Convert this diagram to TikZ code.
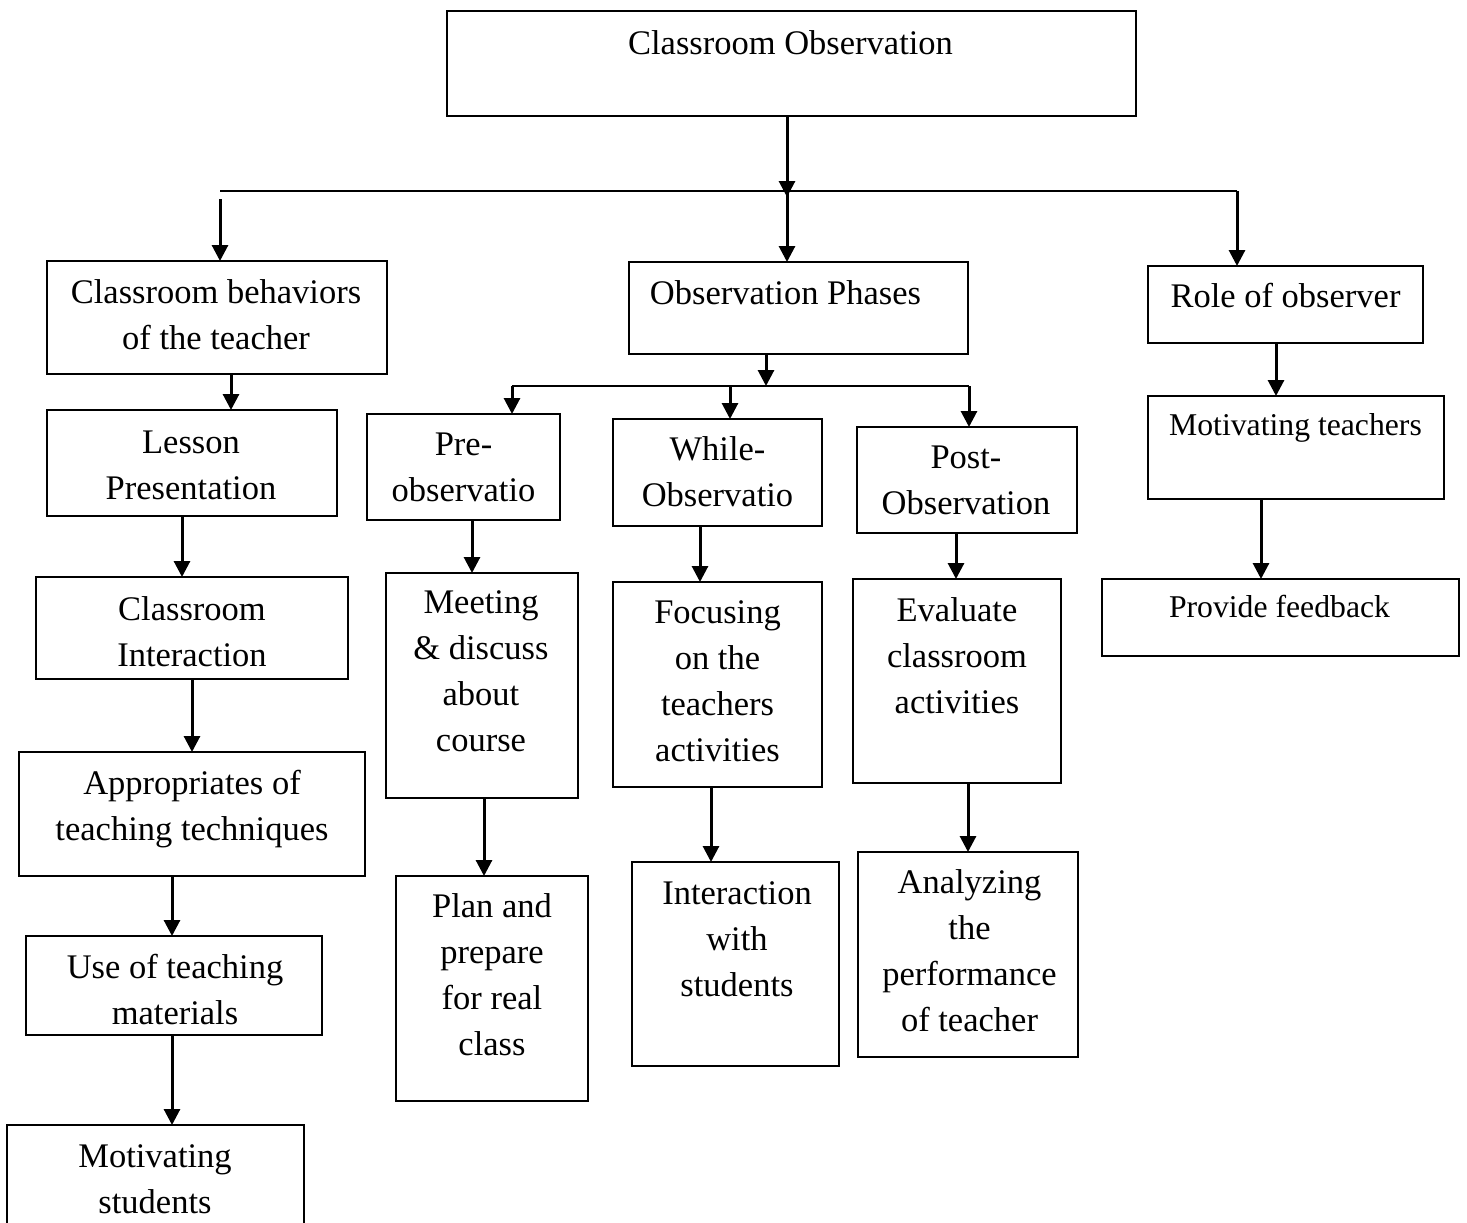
\documentclass[tikz,border=0pt]{standalone}
\usepackage{fontspec}
\setmainfont{Liberation Serif}
\usetikzlibrary{arrows.meta}
\newcommand\fst{\rule{0pt}{26pt}}
\newcommand\fss{\rule{0pt}{24pt}}
\begin{document}
\begin{tikzpicture}[x=1pt,y=-1pt,
  box/.style={draw, line width=2.4pt, inner sep=0pt, outer sep=0pt},
  lbl/.style={anchor=north, align=center, inner sep=0pt, font=\fontsize{34.5}{46}\selectfont},
  slbl/.style={anchor=north, align=center, inner sep=0pt, font=\fontsize{31.7}{42}\selectfont},
  arr/.style={line width=3pt, -{Triangle[length=16pt,width=16pt]}},
  bar/.style={line width=2.4pt}]
\useasboundingbox (0,0) rectangle (1467,1223);
\fill[white] (0,0) rectangle (1467,1223);
\clip (0,0) rectangle (1467,1223);

% boxes
\node[box, minimum width=689pt, minimum height=105pt] (top) at (791.5,63.5) {};
\node[box, minimum width=340pt, minimum height=113pt] (beh) at (217,317.5) {};
\node[box, minimum width=339pt, minimum height=92pt] (obs) at (798.5,308) {};
\node[box, minimum width=275pt, minimum height=77pt] (role) at (1285.5,304.5) {};
\node[box, minimum width=290pt, minimum height=106pt] (lesson) at (192,463) {};
\node[box, minimum width=312pt, minimum height=102pt] (inter) at (192,628) {};
\node[box, minimum width=346pt, minimum height=124pt] (appr) at (192,814) {};
\node[box, minimum width=296pt, minimum height=99pt] (use) at (174,985.5) {};
\node[box, minimum width=297pt, minimum height=135pt] (motst) at (155.5,1192.5) {};
\node[box, minimum width=193pt, minimum height=106pt] (pre) at (463.5,467) {};
\node[box, minimum width=209pt, minimum height=107pt] (while) at (717.5,472.5) {};
\node[box, minimum width=220pt, minimum height=106pt] (post) at (967,480) {};
\node[box, minimum width=192pt, minimum height=225pt] (meet) at (482,685.5) {};
\node[box, minimum width=209pt, minimum height=205pt] (focus) at (717.5,684.5) {};
\node[box, minimum width=208pt, minimum height=204pt] (eval) at (957,681) {};
\node[box, minimum width=192pt, minimum height=225pt] (plan) at (492,988.5) {};
\node[box, minimum width=207pt, minimum height=204pt] (intst) at (735.5,964) {};
\node[box, minimum width=220pt, minimum height=205pt] (anal) at (968,954.5) {};
\node[box, minimum width=296pt, minimum height=103pt] (motte) at (1296,447.5) {};
\node[box, minimum width=357pt, minimum height=77pt] (feed) at (1280.5,617.5) {};

% texts
\node[lbl] (topT) at (790.5,28) {\fst Classroom Observation};
\node[lbl] (behT) at (216,277) {\fst Classroom behaviors\\of the teacher};
\node[lbl] (obsT) at (785.5,278) {\fst Observation Phases};
\node[lbl] (roleT) at (1285.5,281) {\fst Role of observer};
\node[lbl] (lessonT) at (191,427) {\fst Lesson\\Presentation};
\node[lbl] (interT) at (192,594) {\fst Classroom\\Interaction};
\node[lbl] (apprT) at (192,768) {\fst Appropriates of\\teaching techniques};
\node[lbl] (useT) at (175,952) {\fst Use of teaching\\materials};
\node[lbl] (motstT) at (155,1141) {\fst Motivating\\students};
\node[lbl] (preT) at (463.5,429) {\fst Pre-\\observatio};
\node[lbl] (whileT) at (717.5,434) {\fst While-\\Observatio};
\node[lbl] (postT) at (966,442) {\fst Post-\\Observation};
\node[lbl] (meetT) at (481,587) {\fst Meeting\\\& discuss\\about\\course};
\node[lbl] (focusT) at (717.5,597) {\fst Focusing\\on the\\teachers\\activities};
\node[lbl] (evalT) at (957,595) {\fst Evaluate\\classroom\\activities};
\node[lbl] (planT) at (492,891) {\fst Plan and\\prepare\\for real\\class};
\node[lbl] (intstT) at (737,878) {\fst Interaction\\with\\students};
\node[lbl] (analT) at (969.5,867) {\fst Analyzing\\the\\performance\\of teacher};
\node[slbl] (motteT) at (1295.5,411) {\fss Motivating teachers};
\node[slbl] (feedT) at (1279.5,593) {\fss Provide feedback};

% junction coordinates
\coordinate (jt) at (787,197);
\coordinate (b1L) at (220,191);
\coordinate (b1Lg) at (220,199);
\coordinate (b1M) at (787,191);
\coordinate (b1R) at (1237,191);
\coordinate (b2M) at (766,386);
\coordinate (b2L) at (512,386);
\coordinate (b2W) at (730,386);
\coordinate (b2R) at (969,386);

% connectors
\draw[arr] ([xshift=-4.5pt]top.south) -- (jt);
\draw[bar] (b1L) -- (b1R);
\draw[arr] (b1Lg) -- ([xshift=3pt]beh.north);
\draw[arr] (b1M) -- ([xshift=-11.5pt]obs.north);
\draw[arr] (b1R) -- ([xshift=-48.5pt]role.north);

\draw[arr] ([xshift=14pt]beh.south) -- ([xshift=39pt]lesson.north);
\draw[arr] ([xshift=-10pt]lesson.south) -- ([xshift=-10pt]inter.north);
\draw[arr] (inter.south) -- (appr.north);
\draw[arr] ([xshift=-20pt]appr.south) -- ([xshift=-2pt]use.north);
\draw[arr] ([xshift=-2pt]use.south) -- ([xshift=16.5pt]motst.north);

\draw[arr] ([xshift=-32.5pt]obs.south) -- (b2M);
\draw[bar] (b2L) -- (b2R);
\draw[arr] (b2L) -- ([xshift=48.5pt]pre.north);
\draw[arr] (b2W) -- ([xshift=12.5pt]while.north);
\draw[arr] (b2R) -- ([xshift=2pt]post.north);

\draw[arr] ([xshift=8.5pt]pre.south) -- ([xshift=-10pt]meet.north);
\draw[arr] ([xshift=2pt]meet.south) -- ([xshift=-8pt]plan.north);
\draw[arr] ([xshift=-17.5pt]while.south) -- ([xshift=-17.5pt]focus.north);
\draw[arr] ([xshift=-6.5pt]focus.south) -- ([xshift=-24.5pt]intst.north);
\draw[arr] ([xshift=-11pt]post.south) -- ([xshift=-1pt]eval.north);
\draw[arr] ([xshift=11pt]eval.south) -- (anal.north);

\draw[arr] ([xshift=-9.5pt]role.south) -- ([xshift=-20pt]motte.north);
\draw[arr] ([xshift=-35pt]motte.south) -- ([xshift=-19.5pt]feed.north);
\end{tikzpicture}
\end{document}
